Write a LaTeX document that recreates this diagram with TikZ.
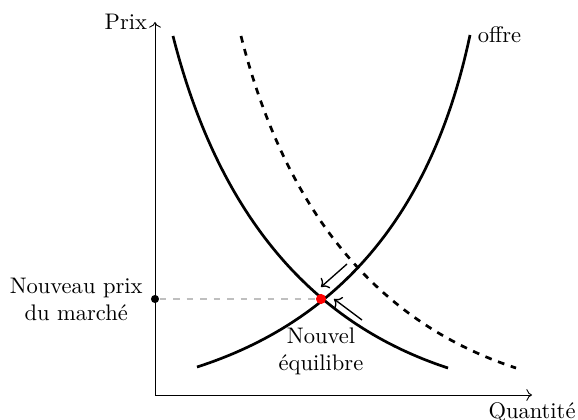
\documentclass[tikz,border=0pt]{standalone}
\usepackage{tikz}
\usetikzlibrary{arrows.meta,positioning}

\begin{document}
\begin{tikzpicture}[
  x=0.444pt, y=0.444pt,
  axis/.style={->, thin},
  curve/.style={very thick},
  shiftarrow/.style={->, semithick},
  guide/.style={dashed, gray!50, thick},
  dot/.style={circle, inner sep=0pt}
]
\useasboundingbox (-155,-25) rectangle (423,395);

% axes
\coordinate (O) at (0,0);
\coordinate (xmax) at (377,0);
\coordinate (ymax) at (0,373);
\draw[axis] (O) -- (xmax) node[below] {Quantité};
\draw[axis] (O) -- (ymax) node[left] {Prix};

% demand, before and after
\draw[curve] (18,359) .. controls (62.7,183) and (154.3,72.3) .. (293,27);
\draw[curve, dashed] (86,359) .. controls (130.7,183) and (222.3,72.3) .. (361,27);

% supply
\coordinate (supplyend) at (315,360);
\draw[curve] (42,28) .. controls (187.3,74.7) and (278.3,185.3) .. (supplyend);
\node[right] at (supplyend) {offre};

% equilibrium
\node[dot, fill=black, minimum size=3.6pt] (price) at (0,96) {};
\node[dot, minimum size=4.5pt] (eq) at (166,96) {};
\draw[guide] (price) -- (eq);
\node[dot, fill=red, minimum size=4.5pt] at (eq) {};
\node[left, align=center] at (price.west) {Nouveau prix\\du marché};
\node[below=7pt of eq, align=center] (eqlabel) {Nouvel\\équilibre};

% movement towards the new point
\coordinate (uptail) at (192,131);
\coordinate (uphead) at (166,108);
\coordinate (lowtail) at (207,75);
\coordinate (lowhead) at (179,96);
\draw[shiftarrow] (uptail) -- (uphead);
\draw[shiftarrow] (lowtail) -- (lowhead);
\end{tikzpicture}
\end{document}
